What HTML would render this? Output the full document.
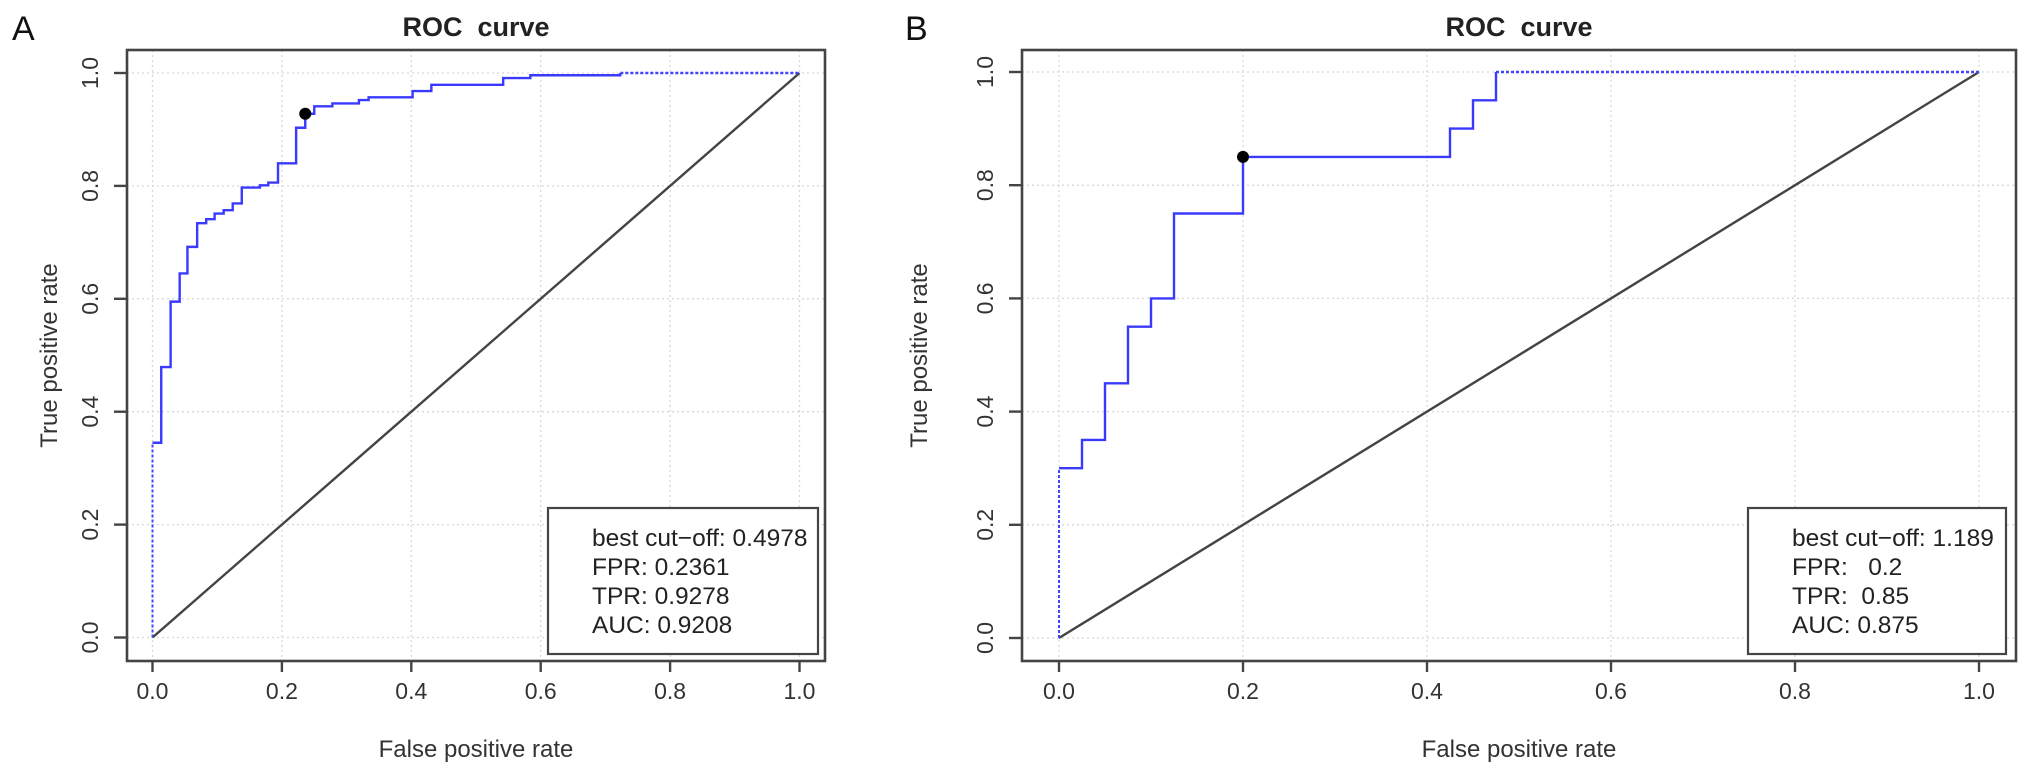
<!DOCTYPE html>
<html><head><meta charset="utf-8"><style>
html,body{margin:0;padding:0;background:#fff;}
svg{display:block;font-family:"Liberation Sans",Arial,sans-serif;}
text{white-space:pre;}
</style></head><body>
<svg id="fig" width="2031" height="776" viewBox="0 0 2031 776" xmlns="http://www.w3.org/2000/svg"></svg>
<script>
// Panel A data
const fprA = [0,0,0.0135,0.0135,0.028,0.028,0.042,0.042,0.054,0.054,0.069,0.069,0.083,0.083,0.096,0.096,0.110,0.110,0.124,0.124,0.138,0.138,0.166,0.166,0.179,0.179,0.194,0.194,0.222,0.222,0.2361,0.2361,0.250,0.250,0.278,0.278,0.319,0.319,0.334,0.334,0.402,0.402,0.431,0.431,0.542,0.542,0.584,0.584,0.723,0.723];
const tprA = [0,0.345,0.345,0.479,0.479,0.595,0.595,0.645,0.645,0.692,0.692,0.734,0.734,0.741,0.741,0.751,0.751,0.757,0.757,0.769,0.769,0.797,0.797,0.801,0.801,0.806,0.806,0.840,0.840,0.903,0.903,0.9278,0.9278,0.941,0.941,0.946,0.946,0.952,0.952,0.957,0.957,0.968,0.968,0.979,0.979,0.991,0.991,0.996,0.996,1.0];
const bestA = [0.2361, 0.9278];
const legendA = ["best cut\u2212off: 0.4978","FPR: 0.2361","TPR: 0.9278","AUC: 0.9208"];
// Panel B data
const fprB = [0,0,0.025,0.025,0.05,0.05,0.075,0.075,0.1,0.1,0.125,0.125,0.2,0.2,0.425,0.425,0.45,0.45,0.475,0.475];
const tprB = [0,0.3,0.3,0.35,0.35,0.45,0.45,0.55,0.55,0.6,0.6,0.75,0.75,0.85,0.85,0.9,0.9,0.95,0.95,1.0];
const bestB = [0.2, 0.85];
const legendB = ["best cut\u2212off: 1.189","FPR:   0.2","TPR:  0.85","AUC: 0.875"];
const ticks = [0,0.2,0.4,0.6,0.8,1.0];
const tickLabels = ["0.0","0.2","0.4","0.6","0.8","1.0"];

const NS="http://www.w3.org/2000/svg";
const svg=document.getElementById('fig');
function mk(tag,attrs,parent){const e=document.createElementNS(NS,tag);for(const k in attrs)e.setAttribute(k,attrs[k]);(parent||svg).appendChild(e);return e;}

function panel(cfg){
  const g=mk('g',{});
  
  
  const sx=v=>cfg.x0+v*(cfg.x1-cfg.x0);
  const sy=v=>cfg.y0-v*(cfg.y0-cfg.y1);
  ticks.forEach(t=>{
    const gx=mk('line',{x1:sx(t),x2:sx(t),y1:cfg.fy0,y2:cfg.fy1,stroke:'#d8d8d8','stroke-width':1.3,'stroke-dasharray':'2 3'},g);
    
    
    const gy=mk('line',{x1:cfg.fx0,x2:cfg.fx1,y1:sy(t),y2:sy(t),stroke:'#d8d8d8','stroke-width':1.3,'stroke-dasharray':'2 3'},g);
    
    
  });
  const d=mk('line',{x1:sx(0),y1:sy(0),x2:sx(1),y2:sy(1),stroke:'#444','stroke-width':2.4},g);
  
  
  const fx=cfg.fpr, ty=cfg.tpr, n=fx.length;
  const v0=mk('line',{x1:sx(fx[0]),y1:sy(ty[0]),x2:sx(fx[1]),y2:sy(ty[1]),stroke:'#4444ff','stroke-width':2,'stroke-dasharray':'3 2'},g);
  
  
  let pts=[];
  for(let i=1;i<n;i++)pts.push(sx(fx[i])+','+sy(ty[i]));
  const pl=mk('polyline',{points:pts.join(' '),fill:'none',stroke:'#3a3aff','stroke-width':2.4},g);
  
  
  const ve=mk('line',{x1:sx(fx[n-1]),y1:sy(ty[n-1]),x2:sx(1),y2:sy(1),stroke:'#4444ff','stroke-width':2.4,'stroke-dasharray':'3 2'},g);
  
  
  const c=mk('circle',{cx:sx(cfg.best[0]),cy:sy(cfg.best[1]),r:6,fill:'#000'},g);
  
  
  const f=mk('rect',{x:cfg.fx0,y:cfg.fy0,width:cfg.fx1-cfg.fx0,height:cfg.fy1-cfg.fy0,fill:'none',stroke:'#444','stroke-width':2.6},g);
  
  
  ticks.forEach((t,i)=>{
    mk('line',{x1:sx(t),x2:sx(t),y1:cfg.fy1,y2:cfg.fy1+11,stroke:'#444','stroke-width':2.4},g);
    const tx=mk('text',{x:sx(t),y:cfg.fy1+38,'text-anchor':'middle','font-size':23,fill:'#333'},g);
    tx.textContent=tickLabels[i];
    
    
    mk('line',{x1:cfg.fx0-13,x2:cfg.fx0,y1:sy(t),y2:sy(t),stroke:'#444','stroke-width':2.4},g);
    const ly=mk('text',{x:0,y:0,'text-anchor':'middle','font-size':23,fill:'#333',transform:`translate(${cfg.fx0-29},${sy(t)}) rotate(-90)`},g);
    ly.textContent=tickLabels[i];
    
    
  });
  const tt=mk('text',{x:(cfg.fx0+cfg.fx1)/2,y:36,'text-anchor':'middle','font-size':27,'font-weight':'bold',fill:'#222'},g);
  tt.textContent='ROC  curve';
  
  
  const xt=mk('text',{x:(cfg.fx0+cfg.fx1)/2,y:757,'text-anchor':'middle','font-size':24,fill:'#333'},g);
  xt.textContent='False positive rate';
  
  
  const yt=mk('text',{x:0,y:0,'text-anchor':'middle','font-size':24,fill:'#333',transform:`translate(${cfg.ytx},${(cfg.fy0+cfg.fy1)/2}) rotate(-90)`},g);
  yt.textContent='True positive rate';
  
  
  const pl2=mk('text',{x:cfg.labx,y:40,'font-size':34,fill:'#111'},g);
  pl2.textContent=cfg.label;
  
  
  const lb=mk('rect',{x:cfg.lx0,y:cfg.ly0,width:cfg.lx1-cfg.lx0,height:cfg.ly1-cfg.ly0,fill:'#fff',stroke:'#444','stroke-width':2.2},g);
  
  
  cfg.legend.forEach((s,i)=>{
    const t=mk('text',{x:cfg.lx0+44,y:cfg.ly0+38+i*29,'font-size':24.5,fill:'#222'},g);
    t.textContent=s;
    
    
  });
}
panel({name:'panel-a',label:'A',labx:12,x0:152.5,x1:799.5,y0:637.5,y1:73,fx0:127,fx1:825,fy0:50,fy1:661,ytx:57,
  fpr:fprA,tpr:tprA,best:bestA,legend:legendA,lx0:548,lx1:818,ly0:508,ly1:654});
panel({name:'panel-b',label:'B',labx:905,x0:1059,x1:1979,y0:638,y1:72,fx0:1022,fx1:2016,fy0:50,fy1:661,ytx:927,
  fpr:fprB,tpr:tprB,best:bestB,legend:legendB,lx0:1748,lx1:2006,ly0:508,ly1:654});
</script>
</body></html>
